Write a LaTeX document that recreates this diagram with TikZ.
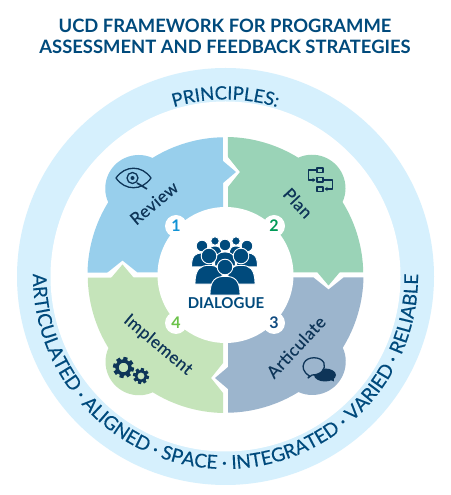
\documentclass[tikz,border=0pt]{standalone}
\usepackage{fontspec}
\setmainfont{Lato}
\newfontfamily\latomed[FakeBold=0.35]{Lato}
\usetikzlibrary{decorations.text,arrows.meta}
\definecolor{navy}{HTML}{004A7C}
\definecolor{ink}{HTML}{0E3558}
\definecolor{ringc}{HTML}{D6F0FD}
\definecolor{revc}{HTML}{98CFEC}
\definecolor{planc}{HTML}{9AD3B7}
\definecolor{artc}{HTML}{9CB5CD}
\definecolor{impc}{HTML}{C5E4BA}
\definecolor{numa}{HTML}{1293D5}
\definecolor{numb}{HTML}{009A57}
\definecolor{numc}{HTML}{0F4A80}
\definecolor{numd}{HTML}{6CC24A}
\newcommand{\segpath}{
  (89:138) arc[start angle=89,end angle=58.2,radius=138]
  arc[start angle=114.3,end angle=-24.3,radius=33.5]
  arc[start angle=31.8,end angle=1,radius=138]
  -- (114,2.5) -- (103,-10.5) -- (92,2.5) -- (40,2.5) -- (2.5,2.5)
  -- (2.5,88) -- (14.5,103) -- (2.5,118) -- cycle}
\tikzset{
  titletext/.style={font=\fontsize{18.4}{22}\selectfont\bfseries,text=navy,inner sep=0pt},
  seglabel/.style={font=\latomed\fontsize{17}{20}\selectfont\addfontfeatures{LetterSpace=3},text=ink,inner sep=0pt},
  numlabel/.style={font=\fontsize{16}{18}\selectfont\bfseries,inner sep=0pt},
  iconline/.style={draw=ink,line width=1.3pt,line join=round},
  person/.style={fill=navy,draw=white,line width=0.9pt}
}
\newcommand{\gear}[3]{% x y r
  \foreach \a in {0,45,...,315}{
    \fill[ink,shift={(#1,#2)},rotate=\a+12] (-#3*0.2,#3*0.7) rectangle (#3*0.2,#3);
  }
  \draw[ink,line width=#3*0.32pt] (#1,#2) circle[radius=#3*0.62];
}
\newcommand{\persona}[4]{% x y headr bodyw
  \path[person] (#1-#4,#2+#3*3.6) .. controls (#1-#4,#2+#3*1.6) and (#1-#4*0.6,#2+#3*1.2) .. (#1,#2+#3*1.2)
     .. controls (#1+#4*0.6,#2+#3*1.2) and (#1+#4,#2+#3*1.6) .. (#1+#4,#2+#3*3.6) -- cycle;
  \path[person] (#1,#2) circle[radius=#3];
}
\begin{document}
\begin{tikzpicture}[x=1pt,y=1pt]
\useasboundingbox (0,0) rectangle (450,495);
\fill[white] (0,0) rectangle (450,495);
% ring
\fill[ringc] (225.5,218.5) circle[radius=208.5];
\fill[white] (225.5,218.5) circle[radius=175];
% ring texts
\path[decorate,decoration={text along path,text align=center,
  text={|\latomed\fontsize{18.4}{20}\selectfont\color{navy}|PRINCIPLES:}}]
  (225.5,218.5) ++(165:177) arc[start angle=165,end angle=15,radius=177];
\path[decorate,decoration={text along path,text align=center,
  text={|\latomed\fontsize{19}{21}\selectfont\color{navy}|ARTICULATED · ALIGNED · SPACE · INTEGRATED · VARIED · RELIABLE}}]
  (225.5,218.5) ++(170:192.5) arc[start angle=170,end angle=370,radius=192.5];
% segments
\begin{scope}[shift={(225.5,220)}]
  \fill[planc] \segpath;
  \fill[artc,rotate=-90] \segpath;
  \fill[impc,rotate=-180] \segpath;
  \fill[revc,rotate=-270] \segpath;
  \fill[white] (0,0) circle[radius=68];
\end{scope}
\foreach \p in {(176,269),(274,269),(274,172),(176,172)}{\fill[white] \p circle[radius=11];}
% labels
\node[titletext] (t1) at (225,469) {UCD FRAMEWORK FOR PROGRAMME};
\node[titletext] (t2) at (225,448) {ASSESSMENT AND FEEDBACK STRATEGIES};
\node[seglabel,rotate=40] (review) at (154,292) {Review};
\node[seglabel,rotate=-47] (plan) at (298,292) {Plan};
\node[seglabel,rotate=47] (articulate) at (296,148) {Articulate};
\node[seglabel,rotate=-40] (implement) at (158,150) {Implement};
\node[numlabel,text=numa] (n1) at (176,269) {1};
\node[numlabel,text=numb] (n2) at (274,269) {2};
\node[numlabel,text=numc] (n3) at (274,172) {3};
\node[numlabel,text=numd] (n4) at (176,172) {4};
\node[font=\fontsize{15}{16}\selectfont\bfseries,text=navy,inner sep=0pt] (dialogue) at (226,192) {DIALOGUE};
% icons, in image pixel coordinates
\begin{scope}[shift={(0,495)},yscale=-1]
  % eye
  \path[iconline] (116,178) .. controls (125,165) and (142,165) .. (151,178) .. controls (142,191) and (125,191) .. (116,178) -- cycle;
  \path[iconline] (132.5,178) circle[radius=5.5];
  \fill[ink] (132.5,178) circle[radius=2];
  \path[iconline,line width=1.7pt] (137,183) -- (147,189);
  % flow
  \path[iconline] (317,168) rectangle (323,172.5);
  \path[iconline] (317,177.5) rectangle (323,182);
  \path[iconline] (317,187) rectangle (323,191.5);
  \path[iconline,-{Stealth[length=3pt,width=4pt]}] (316,170) -- (308.5,170) -- (308.5,180) -- (315.5,180);
  \path[iconline,-{Stealth[length=3pt,width=4pt]}] (324,180) -- (332.5,180) -- (332.5,189) -- (324.5,189);
  % chat
  \fill[ink] (325,375) ellipse[x radius=11,y radius=6.5];
  \fill[ink] (326,378) -- (334,381.5) -- (333,372) -- cycle;
  \path[iconline,fill=artc] (309.5,376) .. controls (303,372) and (302,367) .. (304,363) .. controls (307,356) and (321,356) .. (324,363) .. controls (326,369) and (321,375) .. (312,375) -- (308,378) -- cycle;
  % gears
  \gear{123.5}{367.5}{10.5}
  \gear{141}{376}{8}
  % people
  \persona{215}{241}{4.2}{7}
  \persona{236}{241}{4.2}{7}
  \persona{202}{246}{5.8}{10.5}
  \persona{247}{246}{5.8}{10.5}
  \persona{225}{245}{5.8}{10.5}
  \persona{209}{256}{7.8}{14}
  \persona{241}{256}{7.8}{14}
  \persona{225}{267}{7.8}{15}
\end{scope}
\end{tikzpicture}
\end{document}
